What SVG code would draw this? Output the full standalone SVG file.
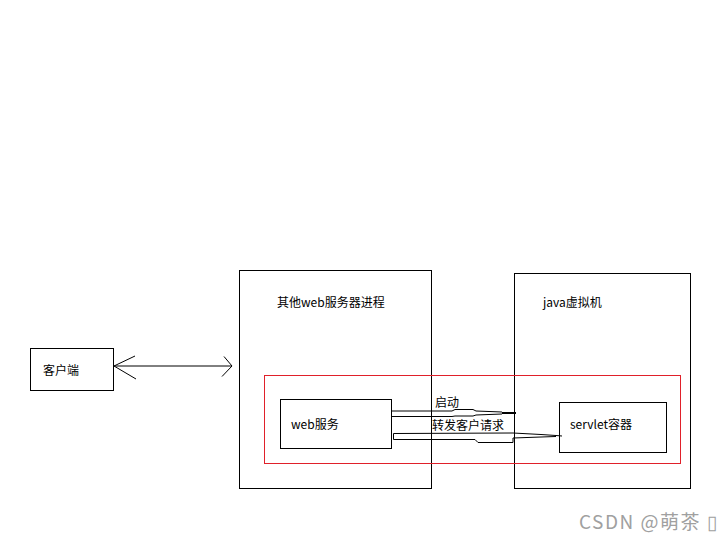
<svg xmlns="http://www.w3.org/2000/svg" width="720" height="540" viewBox="0 0 720 540">
<style>
.box{fill:none;stroke:#000;stroke-width:1}
.red{fill:none;stroke:#e0202a;stroke-width:1}
.t{font-family:"Noto Sans CJK SC","Microsoft YaHei",sans-serif;font-size:12px;fill:#000}
.ln{fill:none;stroke:#000;stroke-width:1}
.wm{font-family:"Noto Sans CJK SC",sans-serif;font-size:19px;fill:#a0a0a0;letter-spacing:1.5px}
</style>
<rect width="720" height="540" fill="#fff"/>
<g id="process">
<rect class="box" x="239.5" y="270.5" width="192" height="218"/>
<text class="t" x="277" y="307">其他web服务器进程</text>
</g>
<g id="jvm">
<rect class="box" x="514.5" y="273.5" width="176" height="215"/>
<text class="t" x="543" y="307">java虚拟机</text>
</g>
<g id="region">
<rect class="red" x="264.5" y="375.5" width="416" height="88"/>
</g>
<g id="client">
<rect class="box" x="30.5" y="348.5" width="83" height="42"/>
<text class="t" x="43" y="375">客户端</text>
</g>
<g id="web">
<rect class="box" x="280.5" y="399.5" width="111" height="49"/>
<text class="t" x="291" y="429">web服务</text>
</g>
<g id="servlet">
<rect class="box" x="559.5" y="402.5" width="107" height="50"/>
<text class="t" x="570" y="429">servlet容器</text>
</g>
<g id="connectors">
<path class="ln" d="M114,366 L232,366 M135,356 L114,366 L136,379 M224,356.5 L232,366 L222,376.5"/>
<path class="ln" d="M391.5,411 L452,411 L455,409.5 L473,409.5 L476,411 L502,412 M391.5,416.5 L452,416.5 L455,416 L473,416 L476,415 L502,414"/>
<path d="M502,413 L516,413" stroke="#000" stroke-width="2"/>
<text class="t" x="435" y="407">启动</text>
<path class="ln" d="M393.5,433.5 L513,433 L541,434.5 L556,435.5 L562,436 M393.5,433.5 L393.5,439.5 L475,439.5 L478,442.5 L513,442.5 L513,438 L541,437 L556,436.5"/>
<text class="t" x="432" y="430">转发客户请求</text>
</g>
<text class="wm" x="579" y="529">CSDN @萌茶 ▯</text>
</svg>
